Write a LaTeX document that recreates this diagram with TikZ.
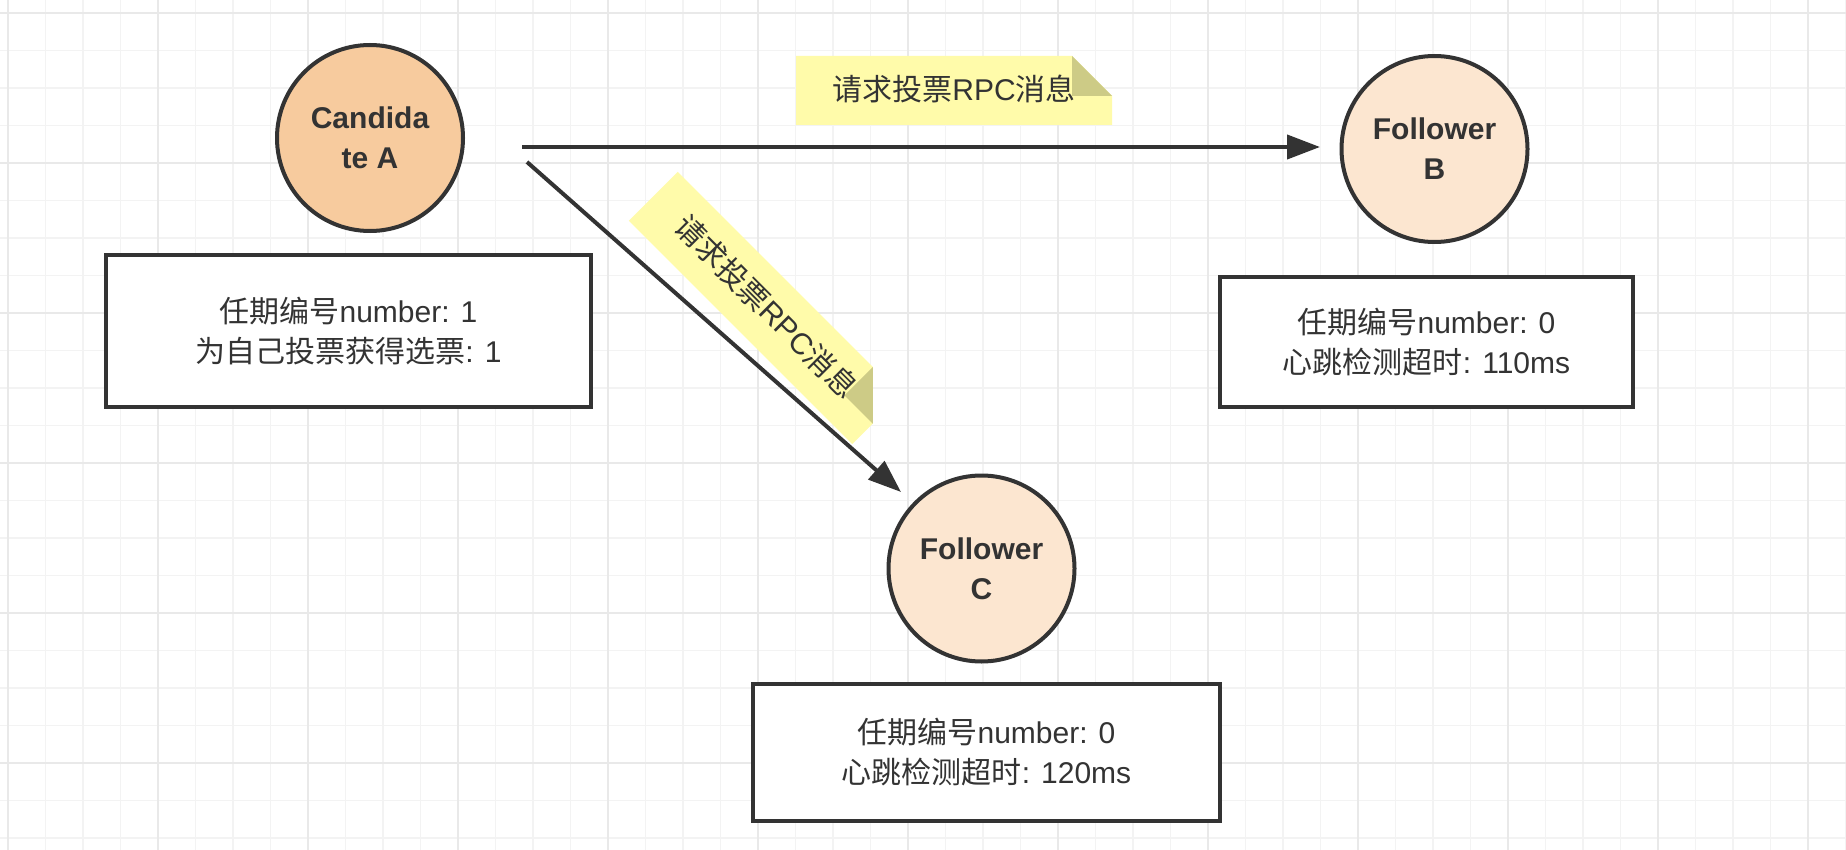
\documentclass[tikz,border=0pt]{standalone}
\usepackage{fontspec}
\setmainfont{Liberation Sans}
\newfontfamily\cjk{Noto Sans CJK SC}
\usetikzlibrary{arrows.meta}
\definecolor{inkgray}{HTML}{333333}
\definecolor{gridlight}{HTML}{F3F3F3}
\definecolor{griddark}{HTML}{E9E9E9}
\definecolor{candfill}{HTML}{F7CB9E}
\definecolor{followfill}{HTML}{FCE6D0}
\definecolor{noteyellow}{HTML}{FFFBAA}
\definecolor{notedark}{HTML}{CDCB86}
\begin{document}
\begin{tikzpicture}[x=1pt,y=-1pt,
	every node/.style={text=inkgray, font=\fontsize{30}{40}\selectfont, align=center},
	gridminor/.style={draw=gridlight, line width=1.5pt},
	gridmajor/.style={draw=griddark, line width=1.5pt},
	server/.style={circle, draw=inkgray, line width=4pt, minimum size=186pt, inner sep=0pt, font=\bfseries\fontsize{30}{40}\selectfont},
	infobox/.style={rectangle, draw=inkgray, line width=4pt, fill=white, inner sep=0pt},
	voteline/.style={draw=inkgray, line width=4pt, -{Triangle[length=33pt,width=24pt]}},
	notebody/.style={fill=noteyellow},
	notefold/.style={fill=notedark}]
				\useasboundingbox[fill=white] (0,0) rectangle (1846,850);
				\foreach \i in {0,...,49}
					\draw[gridminor] ({8+37.5*\i},0) -- ({8+37.5*\i},850);
				\foreach \j in {0,...,22}
					\draw[gridminor] (0,{13+37.5*\j}) -- (1846,{13+37.5*\j});
				\foreach \i in {0,...,12}
					\draw[gridmajor] ({8+150*\i},0) -- ({8+150*\i},850);
				\foreach \j in {0,...,5}
					\draw[gridmajor] (0,{13+150*\j}) -- (1846,{13+150*\j});

				\node[server, fill=candfill](candA) at (370,138){Candida\\te A};
				\node[server, fill=followfill](follB) at (1434.5,149){Follower\\B};
				\node[server, fill=followfill](follC) at (981.5,568.5){Follower\\C};

				\node[infobox, minimum width=485pt, minimum height=152pt](boxA) at (348.5,331){{\cjk 任期编号}number: 1\\{\cjk 为自己投票获得选票}: 1};
				\node[infobox, minimum width=413pt, minimum height=130pt](boxB) at (1426.5,342){{\cjk 任期编号}number: 0\\{\cjk 心跳检测超时}: 110ms};
				\node[infobox, minimum width=467pt, minimum height=137pt](boxC) at (986.5,752.5){{\cjk 任期编号}number: 0\\{\cjk 心跳检测超时}: 120ms};

				\coordinate(h1) at (522,147);
				\coordinate(h2) at (1320,147);
				\coordinate(d1) at (527,162);
				\coordinate(d2) at (901,492);
				\draw[voteline](h1) to (h2);
				\draw[voteline](d1) to (d2);

				\begin{scope}[shift={(954,90.5)}]
					\fill[notebody](-158,-34.5) to (118,-34.5) to (158,5.5) to (158,34.5) to (-158,34.5) to cycle;
					\fill[notefold](118,-34.5) to (158,5.5) to (118,5.5) to cycle;
					\node(msgB) at (0,-2){{\cjk 请求投票}RPC{\cjk 消息}};
				\end{scope}
				\begin{scope}[shift={(765,308)}, rotate=-45]
					\fill[notebody](-158,-34.5) to (118,-34.5) to (158,5.5) to (158,34.5) to (-158,34.5) to cycle;
					\fill[notefold](118,-34.5) to (158,5.5) to (118,5.5) to cycle;
					\node[transform shape](msgC) at (0,-2){{\cjk 请求投票}RPC{\cjk 消息}};
				\end{scope}
			\end{tikzpicture}
\end{document}
